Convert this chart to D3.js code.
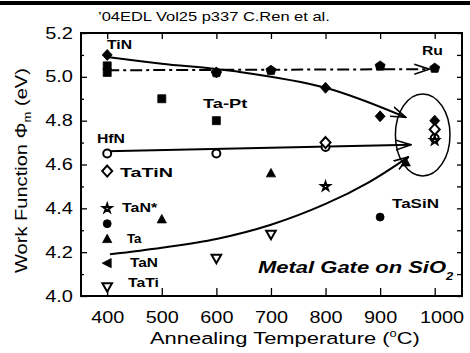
<!DOCTYPE html>
<html><head><meta charset="utf-8">
<script src="https://cdn.jsdelivr.net/npm/d3@7"></script>
<style>
html,body{margin:0;padding:0;background:#fff;}
svg{display:block;}
text{font-family:"Liberation Sans",Arial,sans-serif;fill:#000;}
</style></head>
<body>
<svg id="c" width="470" height="353"></svg>
<script>
// ---------- data ----------
const xTicks = [400, 500, 600, 700, 800, 900, 1000];
const yTicks = [4.0, 4.2, 4.4, 4.6, 4.8, 5.0, 5.2];
const yMinor = [4.1, 4.3, 4.5, 4.7, 4.9, 5.1];

const tinT = [400, 600, 800, 900, 1000];   const tinV = [5.10, 5.02, 4.95, 4.82, 4.80];
const ruT = [600, 700, 900, 1000];         const ruV = [5.02, 5.03, 5.05, 5.04];
const taptT = [400, 400, 500, 600];        const taptV = [5.05, 5.02, 4.90, 4.80];
const hfnT = [400, 600, 800, 1000];        const hfnV = [4.65, 4.65, 4.68, 4.72];
const tatinT = [400, 800, 1000];           const tatinV = [4.57, 4.70, 4.76];
const tanStarT = [400, 800, 1000];         const tanStarV = [4.40, 4.50, 4.71];
const tasinT = [400, 900];                 const tasinV = [4.33, 4.36];
const taT = [400, 500, 700, 947];          const taV = [4.26, 4.35, 4.56, 4.61];
const tanT = [400];                        const tanV = [4.15];
const tatiT = [400, 600, 700];             const tatiV = [4.04, 4.17, 4.28];

// trend arrows
const ruLineT = [400, 990];                const ruLineV = [5.03, 5.035];
const tinCurveT = [400, 500, 635, 800, 947]; const tinCurveV = [5.09, 5.06, 5.025, 4.95, 4.815];
const hfnLineT = [400, 956];                const hfnLineV = [4.66, 4.69];
const lowCurveT = [405, 500, 600, 700, 800, 880, 952]; const lowCurveV = [4.19, 4.22, 4.26, 4.325, 4.42, 4.52, 4.635];
const ellipseC = [978, 4.735];             const ellipseR = [50, 0.187];

// ---------- layout ----------
const svg = d3.select('#c');
const L = 81, R = 462, T = 33, B = 296;
const x = d3.scaleLinear().domain([352, 1050]).range([L, R]);
const y = d3.scaleLinear().domain([4.0, 5.2]).range([B, T]);

svg.append('rect').attr('width', 470).attr('height', 353).attr('fill', '#fff');
// top black bar
svg.append('rect').attr('x', 0).attr('y', 1).attr('width', 470).attr('height', 4).attr('fill', '#000');

const defs = svg.append('defs');
defs.append('marker').attr('id', 'arr').attr('viewBox', '0 0 16 12')
  .attr('refX', 15).attr('refY', 6).attr('markerWidth', 16).attr('markerHeight', 12)
  .attr('markerUnits', 'userSpaceOnUse').attr('orient', 'auto')
  .append('path').attr('d', 'M0,1 L15,6 L0,11').attr('fill', 'none')
  .attr('stroke', '#000').attr('stroke-width', 1.6);

// helper: fit text width by horizontal scale
function fit(t, w) {
  const bw = t.node().getBBox().width;
  if (bw > 0) t.attr('transform', `scale(${w / bw},1)`);
}
function label(str, px, py, font, w, anchor) {
  const g = svg.append('g').attr('transform', `translate(${px},${py})`);
  const t = g.append('text').attr('text-anchor', anchor || 'start').style('font', font).text(str);
  if (w) fit(t, w);
  return t;
}

// ---------- axes ----------
const gx = svg.append('g').attr('transform', `translate(0,${B})`)
  .call(d3.axisBottom(x).tickValues(xTicks).tickSizeInner(-8).tickSizeOuter(0).tickPadding(16).tickFormat(d3.format('d')));
gx.selectAll('text').style('font', '16px "Liberation Sans",Arial,sans-serif')
  .attr('transform', 'scale(1.24,1)')
  .attr('x', d => d === 1000 ? 5.5 : 0);
const gxt = svg.append('g').attr('transform', `translate(0,${T})`)
  .call(d3.axisTop(x).tickValues(xTicks).tickSizeInner(-6).tickSizeOuter(0).tickFormat(''));
const gy = svg.append('g').attr('transform', `translate(${L},0)`)
  .call(d3.axisLeft(y).tickValues(yTicks).tickSizeInner(-6).tickSizeOuter(0).tickPadding(8).tickFormat(d3.format('.1f')));
gy.selectAll('text').style('font', '16px "Liberation Sans",Arial,sans-serif')
  .attr('transform', 'translate(-8,0) scale(1.25,1) translate(8,0)');
const gym = svg.append('g').attr('transform', `translate(${L},0)`)
  .call(d3.axisLeft(y).tickValues(yMinor).tickSizeInner(-3).tickSizeOuter(0).tickFormat(''));
const gyr = svg.append('g').attr('transform', `translate(${R},0)`)
  .call(d3.axisRight(y).tickValues(yMinor.concat(yTicks)).tickSizeInner(-5).tickSizeOuter(0).tickFormat(''));
[gx, gxt, gy, gym, gyr].forEach(g => {
  g.select('.domain').remove();
  g.selectAll('line').attr('stroke', '#000').attr('stroke-width', 1.3);
});
svg.append('rect').attr('x', L).attr('y', T).attr('width', R - L).attr('height', B - T)
  .attr('fill', 'none').attr('stroke', '#000').attr('stroke-width', 2);

// ---------- trend lines ----------
const zip = (a, b) => a.map((v, i) => [v, b[i]]);
const line = d3.line().x(d => x(d[0])).y(d => y(d[1]));
const curve = d3.line().x(d => x(d[0])).y(d => y(d[1])).curve(d3.curveCatmullRom.alpha(0.5));
const lg = svg.append('g').attr('fill', 'none').attr('stroke', '#000').attr('stroke-width', 2);
lg.append('path').attr('d', line(zip(ruLineT, ruLineV))).attr('stroke-dasharray', '12,4,3,4').attr('marker-end', 'url(#arr)');
lg.append('path').attr('d', curve(zip(tinCurveT, tinCurveV))).attr('marker-end', 'url(#arr)');
lg.append('path').attr('d', line(zip(hfnLineT, hfnLineV))).attr('marker-end', 'url(#arr)');
lg.append('path').attr('d', curve(zip(lowCurveT, lowCurveV))).attr('marker-end', 'url(#arr)');
lg.append('ellipse').attr('cx', x(ellipseC[0])).attr('cy', y(ellipseC[1]))
  .attr('rx', x(ellipseC[0] + ellipseR[0]) - x(ellipseC[0]))
  .attr('ry', y(ellipseC[1] - ellipseR[1]) - y(ellipseC[1]))
  .attr('stroke-width', 1.5);

// ---------- markers ----------
const shapes = {
  diamond: 'M0,-5.5L5,0L0,5.5L-5,0Z',
  square: 'M-4,-4H4V4H-4Z',
  circle: d3.symbol(d3.symbolCircle, 50)(),
  triUp: 'M0,-4.8L4.6,3.6L-4.6,3.6Z',
  triLeft: 'M-5,0L4,-4.6L4,4.6Z',
  triDown: 'M0,4.5L-4.8,-4L4.8,-4Z',
  pent: 'M0,-5L5,-1.4L3.3,4.3L-3.3,4.3L-5,-1.4Z',
  star: d3.symbol(d3.symbolStar, 22)()
};
function plot(T_, V_, shape, filled) {
  svg.append('g').selectAll('path').data(zip(T_, V_)).join('path')
    .attr('transform', d => `translate(${x(d[0])},${y(d[1])})`)
    .attr('d', shapes[shape])
    .attr('fill', filled ? '#000' : '#fff')
    .attr('stroke', '#000').attr('stroke-width', filled ? 0.8 : 2)
    .attr('stroke-linejoin', 'miter');
}
plot(taptT, taptV, 'square', true);
plot(ruT, ruV, 'pent', true);
plot(tinT, tinV, 'diamond', true);
plot(hfnT, hfnV, 'circle', false);
plot(tatinT, tatinV, 'diamond', false);
plot(tanStarT, tanStarV, 'star', false);
plot(tasinT, tasinV, 'circle', true);
plot(taT, taV, 'triUp', true);
plot(tanT, tanV, 'triLeft', true);
plot(tatiT, tatiV, 'triDown', false);

// ---------- texts ----------
const bold = 'bold 13.5px "Liberation Sans",Arial,sans-serif';
label('\u201904EDL Vol25 p337 C.Ren et al.', 98, 21, '12.5px "Liberation Sans",Arial,sans-serif', 232);
label('TiN', 107, 49, bold, 25);
label('Ru', 422, 55, bold, 21);
label('Ta-Pt', 203, 108, bold, 45);
label('HfN', 97, 143, bold, 28);
label('TaTiN', 120, 177, bold, 53);
label('TaN*', 122, 212, bold, 36);
label('Ta', 127, 243, bold, 15);
label('TaN', 130, 267, bold, 28);
label('TaTi', 128, 287, bold, 31);
label('TaSiN', 392, 208, bold, 47);

// Metal Gate on SiO2
{
  const g = svg.append('g').attr('transform', 'translate(258,273)');
  const t = g.append('text').style('font', 'italic bold 17px "Liberation Sans",Arial,sans-serif');
  t.append('tspan').text('Metal Gate on SiO');
  t.append('tspan').attr('dy', 7).style('font-size', '10px').text('2');
  fit(t, 196);
}
// x axis title
{
  const g = svg.append('g').attr('transform', 'translate(150,344)');
  const t = g.append('text').style('font', '17px "Liberation Sans",Arial,sans-serif');
  t.append('tspan').text('Annealing Temperature (');
  t.append('tspan').attr('dy', -7).style('font-size', '10px').text('o');
  t.append('tspan').attr('dy', 7).text('C)');
  fit(t, 270);
}
// y axis title
{
  const g = svg.append('g').attr('transform', 'translate(27,273) rotate(-90)');
  const t = g.append('text').style('font', '17px "Liberation Sans",Arial,sans-serif');
  t.append('tspan').text('Work Function \u03A6');
  t.append('tspan').attr('dy', 4).style('font-size', '11px').text('m');
  t.append('tspan').attr('dy', -4).text(' (eV)');
  fit(t, 205);
}
</script>
</body></html>
